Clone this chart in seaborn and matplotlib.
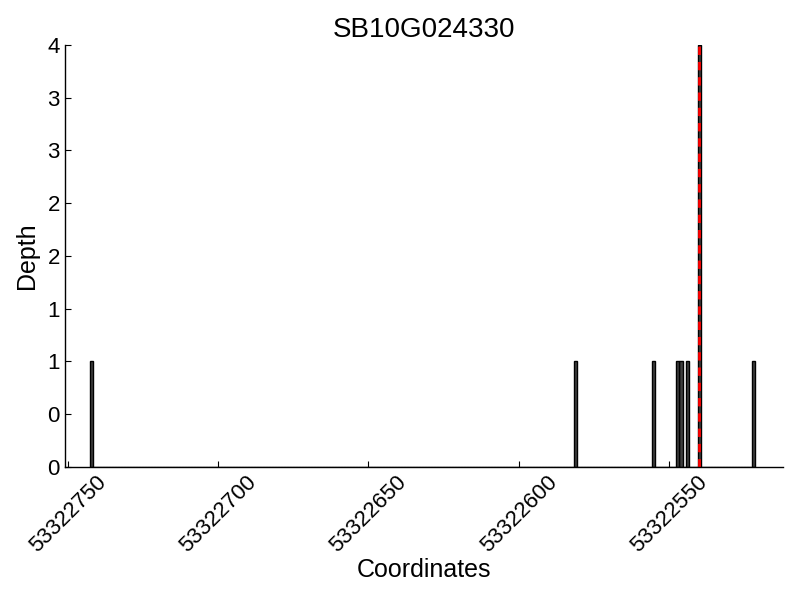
import matplotlib
matplotlib.use('Agg')
import matplotlib.pyplot as plt
import matplotlib.ticker as mticker
import seaborn as sns

# Read depth data
gene_name = 'SB10G024330'
positions = [53322742, 53322581, 53322555, 53322547, 53322546, 53322544, 53322540, 53322522]
depths = [1, 1, 1, 1, 1, 1, 4, 1]
snp_position = 53322540

sns.set_style('ticks', {'text.color': 'black', 'axes.labelcolor': 'black',
                        'xtick.color': 'black', 'ytick.color': 'black',
                        'axes.edgecolor': 'black'})
plt.rcParams['font.family'] = ['Liberation Sans', 'DejaVu Sans']

fig = plt.figure(figsize=(8, 6), dpi=100)
ax = fig.add_axes([0.081, 0.222, 0.898, 0.703])

sns.histplot(x=positions, weights=depths, discrete=True, color='0.25',
             edgecolor='black', linewidth=1, alpha=1, ax=ax)
ax.axvline(snp_position, color='red', linestyle='--', linewidth=2, dashes=(3, 2.5))

ax.set_xlim(53322751, 53322512)
ax.set_ylim(0, 4)
ax.xaxis.set_major_locator(mticker.MultipleLocator(50))
ax.yaxis.set_major_locator(mticker.MultipleLocator(0.5))
ax.yaxis.set_major_formatter(mticker.FormatStrFormatter('%d'))
ax.xaxis.set_major_formatter(mticker.FormatStrFormatter('%d'))
ax.tick_params(direction='in', length=4, width=0.8, labelsize=16, colors='black')
plt.setp(ax.get_xticklabels(), rotation=45, ha='center')
sns.despine(ax=ax)
for s in ['left', 'bottom']:
    ax.spines[s].set_linewidth(1)

ax.set_title(gene_name, fontsize=20, color='black')
ax.set_xlabel('Coordinates', fontsize=18, labelpad=1)
ax.set_ylabel('Depth', fontsize=18, labelpad=6)

fig.savefig('out.png', dpi=100)
